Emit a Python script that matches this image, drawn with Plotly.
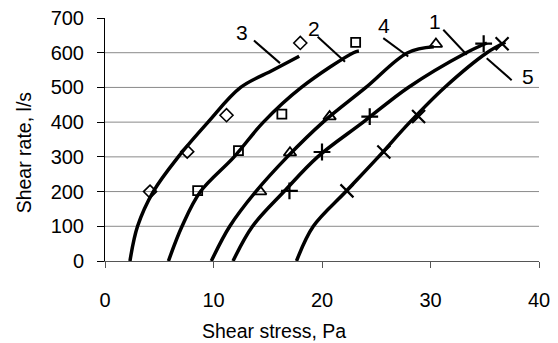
import plotly.graph_objects as go

# ---- data ----
x_ticks = [0, 10, 20, 30, 40]
y_ticks = [0, 100, 200, 300, 400, 500, 600, 700]
grid_levels = [100, 200, 300, 400, 500, 600]

# fitted curves (shear stress, shear rate)
c3_x = [2.3, 3.0, 4.45, 6.75, 9.5, 12.5, 15.5, 17.9]
c3_y = [0, 100, 200, 300, 400, 500, 550, 590]
c2_x = [5.85, 7.1, 8.8, 11.9, 14.6, 18.1, 22.9, 23.4]
c2_y = [0, 100, 200, 300, 400, 500, 600, 605]
c4_x = [9.8, 11.5, 13.9, 16.8, 20.1, 24.05, 27.9, 30.3]
c4_y = [0, 100, 200, 300, 400, 500, 600, 617]
c1_x = [11.8, 13.6, 16.5, 19.6, 23.8, 27.95, 33.3, 35.2]
c1_y = [0, 100, 200, 300, 400, 500, 600, 628]
c5_x = [17.65, 19.2, 22.2, 25.2, 28.1, 31.3, 35.2, 36.9]
c5_y = [0, 100, 200, 300, 400, 500, 600, 630]

# measured points
m3_x = [4.15, 7.58, 11.2, 18.0]
m3_y = [200, 315, 420, 628]
m2_x = [8.54, 12.3, 16.3, 23.1]
m2_y = [203, 318, 423, 630]
m4_x = [14.3, 17.05, 20.7, 30.5]
m4_y = [200, 312, 416, 625]
m1_x = [17.0, 20.0, 24.4, 34.9]
m1_y = [202, 314, 416, 626]
m5_x = [22.3, 25.7, 28.9, 36.6]
m5_y = [202, 314, 416, 626]

# curve labels and leader lines
label_text = ["3", "2", "4", "1", "5"]
label_x = [12.63, 19.26, 25.74, 30.41, 39.0]
label_y = [657, 670, 677, 689, 531]
leader_x0 = [13.73, 19.6, 25.65, 31.18, 35.18]
leader_y0 = [635, 646, 642, 666, 584]
leader_x1 = [16.13, 22.12, 27.95, 33.34, 37.48]
leader_y1 = [570, 574, 589, 594, 521]

FONT = "Liberation Sans, Arial, sans-serif"

fig = go.Figure()

curves = [(c3_x, c3_y), (c2_x, c2_y), (c4_x, c4_y), (c1_x, c1_y), (c5_x, c5_y)]
for cx, cy in curves:
    fig.add_trace(go.Scatter(x=cx, y=cy, mode="lines",
                             line=dict(color="black", width=3.5, shape="spline", smoothing=1.0),
                             showlegend=False, hoverinfo="skip"))

markers = [
    (m3_x, m3_y, "diamond-open", 10, 1.6),
    (m2_x, m2_y, "square-open", 9, 1.8),
    (m4_x, m4_y, "triangle-up-open", 11, 1.8),
    (m1_x, m1_y, "cross-thin-open", 12, 2.2),
    (m5_x, m5_y, "x-thin-open", 13, 2.2),
]
for mx, my, sym, sz, lw in markers:
    fig.add_trace(go.Scatter(x=mx, y=my, mode="markers",
                             marker=dict(symbol=sym, size=sz, color="black",
                                         line=dict(color="black", width=lw)),
                             showlegend=False, cliponaxis=False))

for i in range(len(label_text)):
    fig.add_trace(go.Scatter(x=[leader_x0[i], leader_x1[i]], y=[leader_y0[i], leader_y1[i]],
                             mode="lines", line=dict(color="black", width=2),
                             showlegend=False, hoverinfo="skip", cliponaxis=False))
    fig.add_annotation(x=label_x[i], y=label_y[i], text=label_text[i], showarrow=False,
                       xref="x", yref="y", font=dict(family=FONT, size=21, color="black"))

for g in grid_levels:
    fig.add_shape(type="line", xref="paper", yref="y", x0=0, x1=1, y0=g, y1=g,
                  line=dict(color="#8a8a8a", width=1), layer="below")

fig.add_annotation(text="Shear stress, Pa", xref="paper", yref="paper",
                   x=0.389, y=-0.29, showarrow=False,
                   xanchor="center", yanchor="middle",
                   font=dict(family=FONT, size=19.5, color="black"))
fig.add_annotation(text="Shear rate, l/s", xref="paper", yref="paper",
                   x=-0.187, y=0.4465, showarrow=False, textangle=-90,
                   xanchor="center", yanchor="middle",
                   font=dict(family=FONT, size=19.5, color="black"))

fig.update_xaxes(range=[0, 40], tickvals=x_ticks, ticktext=[str(v) for v in x_ticks],
                 showgrid=False, zeroline=False, showline=True, linecolor="#555",
                 linewidth=1, ticks="outside", ticklen=6, tickcolor="#555",
                 ticklabelstandoff=15, ticklabeloverflow="allow",
                 tickfont=dict(family=FONT, size=20, color="black"))
fig.update_yaxes(range=[0, 700], tickvals=y_ticks, ticktext=[str(v) for v in y_ticks],
                 showgrid=False, zeroline=False, showline=True, linecolor="black",
                 linewidth=1, ticks="outside", ticklen=7, tickcolor="black",
                 ticklabelstandoff=9, ticklabeloverflow="allow",
                 tickfont=dict(family=FONT, size=20, color="black"))

# the page body adds an 8px offset, so the figure is 8px smaller and margins compensate
fig.update_layout(width=550, height=335,
                  margin=dict(l=97, r=19, t=10, b=82, autoexpand=False),
                  plot_bgcolor="white", paper_bgcolor="white",
                  showlegend=False)

fig.write_html("out.html")
